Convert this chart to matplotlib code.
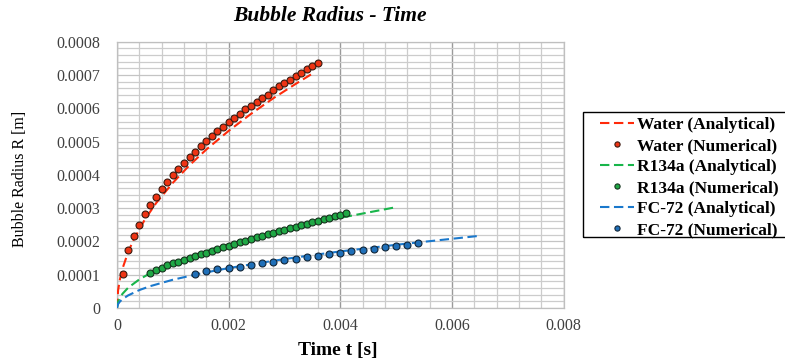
import numpy as np
import matplotlib
matplotlib.use("Agg")
import matplotlib.pyplot as plt
from matplotlib.ticker import MultipleLocator, FixedLocator, FixedFormatter
from matplotlib.patches import Rectangle

# ---- data (t in s, R in micrometres) ----
water_num_t = [0.0001 * i for i in range(1, 37)]
water_num_r = [102, 175, 215, 250, 281, 310, 334, 357, 378, 399,
               418, 436, 454, 470, 486, 502, 516, 531, 544, 558,
               570, 584, 597, 607, 620, 630, 641, 654, 666, 675,
               685, 696, 706, 717, 726, 736]

water_an_t = [0, 0.00002, 0.00005, 0.0001, 0.0002, 0.0003, 0.0005, 0.0007, 0.001,
              0.0013, 0.0016, 0.002, 0.0024, 0.0028, 0.0032, 0.0035]
water_an_r = [0, 53, 84, 119, 168, 206, 266, 315, 376, 429, 476, 532, 583, 630, 673, 704]

r134a_num_t = [0.0006 + 0.0001 * i for i in range(36)]
r134a_num_r = [106, 114, 121, 128, 134, 139, 144, 151, 156, 161,
               166, 171, 176, 182, 187, 193, 198, 202, 207, 212,
               217, 222, 226, 231, 235, 239, 244, 249, 252, 257,
               262, 266, 271, 275, 279, 284]

r134a_an_t = [0, 0.00002, 0.00005, 0.0001, 0.0002, 0.0004, 0.0006, 0.001, 0.0015,
              0.002, 0.0025, 0.003, 0.0035, 0.004, 0.0045, 0.005]
r134a_an_r = [0, 19, 30, 43, 61, 86, 105, 136, 166, 192, 214, 235, 254, 271, 287, 303]

fc72_num_t = [0.0014 + 0.0002 * i for i in range(21)]
fc72_num_r = [102, 111, 116, 120, 124, 129, 134, 138, 143, 147, 152,
              156, 161, 164, 170, 174, 177, 182, 185, 190, 195]

fc72_an_t = [0, 0.00002, 0.00005, 0.0001, 0.0002, 0.0004, 0.0006, 0.001, 0.0015, 0.002,
             0.0025, 0.003, 0.0035, 0.004, 0.0045, 0.005, 0.0055, 0.006, 0.0065]
fc72_an_r = [0, 12, 19, 27, 38, 54, 66, 85, 104, 120, 134, 147, 159, 170, 180, 190, 199, 208, 217]

x_ticks = [0, 0.002, 0.004, 0.006, 0.008]
x_tick_labels = ["0", "0.002", "0.004", "0.006", "0.008"]
y_ticks = [0, 0.0001, 0.0002, 0.0003, 0.0004, 0.0005, 0.0006, 0.0007, 0.0008]
y_tick_labels = ["0", "0.0001", "0.0002", "0.0003", "0.0004", "0.0005", "0.0006", "0.0007", "0.0008"]

um = 1e-6

serif = "Liberation Serif"
plt.rcParams["font.family"] = serif

fig = plt.figure(figsize=(7.85, 3.62), dpi=100)
ax = fig.add_axes([0.149, 0.149, 0.569, 0.736])

dash = (4.5, 2.2)
lw = 1.5
ms = 5.0

ax.plot(water_an_t, np.array(water_an_r) * um, color="#FF2A0A", lw=lw, dashes=dash,
        label="Water (Analytical)", zorder=3)
ax.plot(water_num_t, np.array(water_num_r) * um, ls="none", marker="o", ms=ms,
        mfc="#EE3414", mec="#3a1a10", mew=0.8, label="Water (Numerical)", zorder=4)
ax.plot(r134a_an_t, np.array(r134a_an_r) * um, color="#18B54A", lw=lw, dashes=dash,
        label="R134a (Analytical)", zorder=3)
ax.plot(r134a_num_t, np.array(r134a_num_r) * um, ls="none", marker="o", ms=ms,
        mfc="#1FA845", mec="#16331e", mew=0.8, label="R134a (Numerical)", zorder=4)
ax.plot(fc72_an_t, np.array(fc72_an_r) * um, color="#1A78CC", lw=lw, dashes=dash,
        label="FC-72 (Analytical)", zorder=3)
ax.plot(fc72_num_t, np.array(fc72_num_r) * um, ls="none", marker="o", ms=ms,
        mfc="#1F6FB8", mec="#122638", mew=0.8, label="FC-72 (Numerical)", zorder=4)

ax.set_xlim(0, 0.008)
ax.set_ylim(0, 0.0008)
ax.xaxis.set_major_locator(FixedLocator(x_ticks))
ax.xaxis.set_major_formatter(FixedFormatter(x_tick_labels))
ax.yaxis.set_major_locator(FixedLocator(y_ticks))
ax.yaxis.set_major_formatter(FixedFormatter(y_tick_labels))
ax.xaxis.set_minor_locator(MultipleLocator(0.0004))
ax.yaxis.set_minor_locator(MultipleLocator(0.00002))

ax.grid(which="minor", color="#CCCCCC", lw=0.9)
ax.grid(which="major", axis="y", color="#C4C4C4", lw=0.9)
ax.grid(which="major", axis="x", color="#9A9A9A", lw=1.0)
ax.set_axisbelow(True)
for s in ax.spines.values():
    s.set_color("#BFBFBF")
    s.set_linewidth(0.9)

ax.tick_params(which="both", length=0)
ax.tick_params(axis="x", pad=7, labelsize=11.5, labelcolor="#404040")
ax.tick_params(axis="y", pad=12, labelsize=11.5, labelcolor="#404040")

fig.text(0.42, 0.955, "Bubble Radius - Time", ha="center", va="center",
         fontsize=15.5, fontweight="bold", style="italic", family=serif)
fig.text(0.026, 0.505, "Bubble Radius R [m]", ha="center", va="center",
         rotation=90, fontsize=11.5, family=serif)
fig.text(0.43, 0.033, "Time t [s]", ha="center", va="center",
         fontsize=14, fontweight="bold", family=serif)

leg = fig.legend(loc="upper left", bbox_to_anchor=(0.764, 0.676), frameon=False,
                 prop={"family": serif, "weight": "bold", "size": 12.5},
                 handlelength=2.0, handletextpad=0.12, labelspacing=0.28,
                 borderpad=0, borderaxespad=0, markerscale=0.75)

# legend frame drawn separately (runs past the right edge as in the reference)
fig.patches.append(Rectangle((0.743, 0.345), 0.30, 0.346, transform=fig.transFigure,
                             fill=False, ec="black", lw=1.0))

fig.savefig("out.png", dpi=100)
